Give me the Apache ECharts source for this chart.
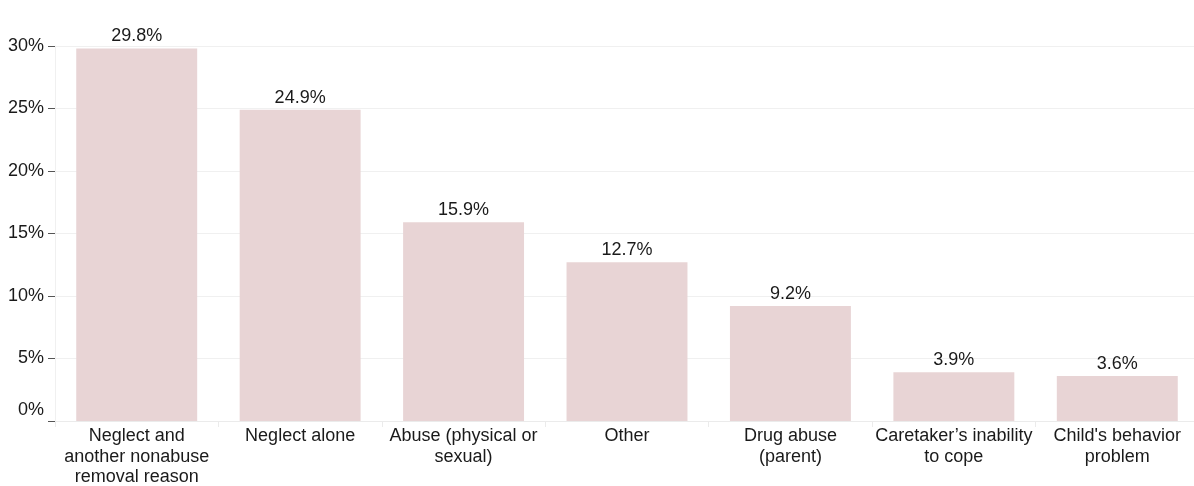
<!DOCTYPE html>
<html>
<head>
<meta charset="utf-8">
<script src="https://cdn.jsdelivr.net/npm/echarts@6/dist/echarts.min.js"></script>
<style>
  html, body { margin: 0; padding: 0; background: #ffffff; }
  #chart { width: 1194px; height: 486px; }
</style>
</head>
<body>
<div id="chart"></div>
<script>
// Removal reasons and share of children (%)
const categories = [
  'Neglect and\nanother nonabuse\nremoval reason',
  'Neglect alone',
  'Abuse (physical or\nsexual)',
  'Other',
  'Drug abuse\n(parent)',
  'Caretaker\u2019s inability\nto cope',
  "Child's behavior\nproblem"
];
const shares = [29.8, 24.9, 15.9, 12.7, 9.2, 3.9, 3.6];
const yTicks = [0, 5, 10, 15, 20, 25, 30];

const chart = echarts.init(document.getElementById('chart'));
const font = 'Liberation Sans, Arial, sans-serif';

chart.setOption({
  animation: false,
  grid: {
    left: 55, right: -5, top: 46, bottom: 65,
    containLabel: false, outerBoundsMode: 'none'
  },
  xAxis: {
    type: 'category',
    data: categories,
    axisLine: { show: true, lineStyle: { color: '#ebebeb', width: 1 } },
    axisTick: { show: true, length: 6, lineStyle: { color: '#ebebeb' } },
    axisLabel: {
      interval: 0, color: '#1a1a1a', fontFamily: font, fontSize: 18,
      lineHeight: 20.5, margin: 5
    }
  },
  yAxis: {
    type: 'value',
    min: yTicks[0],
    max: yTicks[yTicks.length - 1],
    interval: 5,
    axisLine: { show: true, lineStyle: { color: '#f0f0f0' } },
    axisTick: { show: true, length: 7, lineStyle: { color: '#555555' } },
    splitLine: { show: true, lineStyle: { color: '#f0f0f0', width: 1 } },
    axisLabel: {
      color: '#1a1a1a', fontFamily: font, fontSize: 18, margin: 11,
      formatter: v => v === 0 ? '{z|0%}' : v + '%',
      rich: { z: { color: '#1a1a1a', fontFamily: font, fontSize: 18, padding: [0, 0, 22, 0] } }
    }
  },
  series: [{
    type: 'bar',
    data: shares,
    barWidth: '74%',
    itemStyle: { color: '#e8d4d5' },
    label: {
      show: true, position: 'top', distance: 3,
      color: '#1a1a1a', fontFamily: font, fontSize: 18,
      formatter: p => p.value.toFixed(1) + '%'
    }
  }]
});
</script>
</body>
</html>
